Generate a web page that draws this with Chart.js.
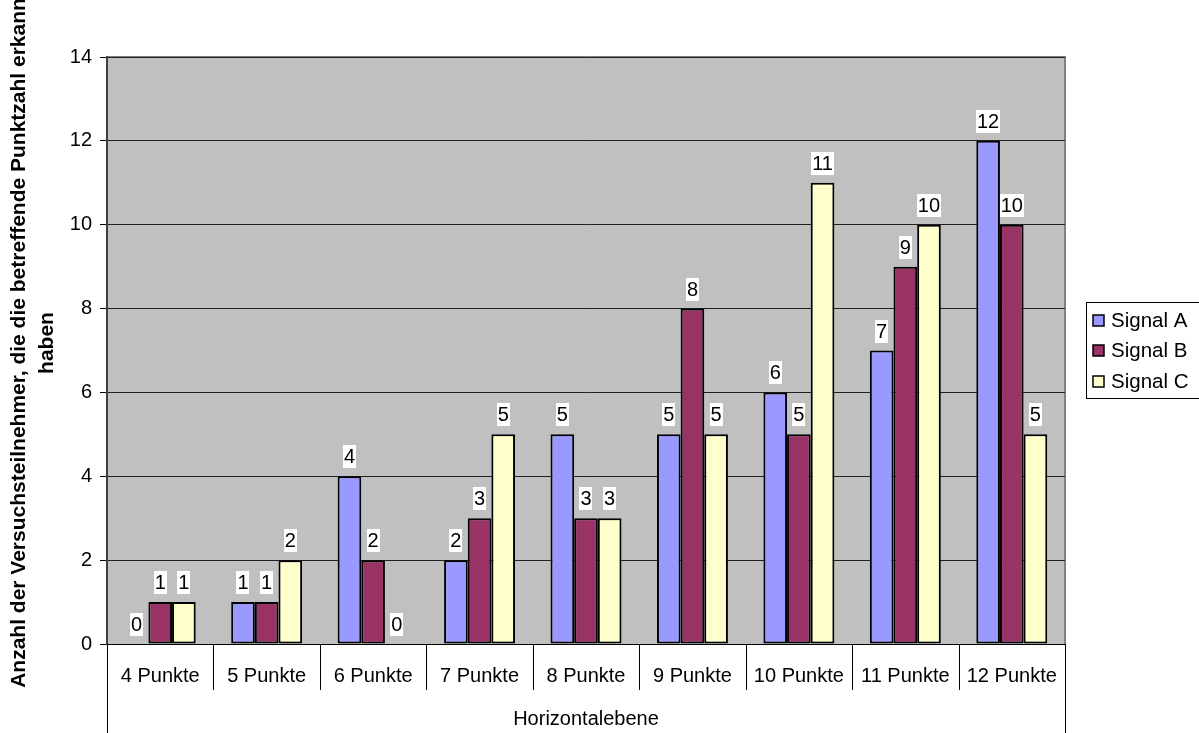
<!DOCTYPE html>
<html>
<head>
<meta charset="utf-8">
<script src="https://cdn.jsdelivr.net/npm/chart.js@4/dist/chart.umd.min.js"></script>
<style>
  html, body { margin: 0; padding: 0; background: #ffffff; }
  #wrap { width: 1199px; height: 733px; position: relative; }
</style>
</head>
<body>
<div id="wrap"><canvas id="c" width="1199" height="733"></canvas></div>
<script>
// Category labels and counts per signal
const categories = ['4 Punkte', '5 Punkte', '6 Punkte', '7 Punkte', '8 Punkte', '9 Punkte', '10 Punkte', '11 Punkte', '12 Punkte'];
const signalA = [0, 1, 4, 2, 5, 5, 6, 7, 12];
const signalB = [1, 1, 2, 3, 3, 8, 5, 9, 10];
const signalC = [1, 2, 0, 5, 3, 5, 11, 10, 5];
const seriesNames = ['Signal A', 'Signal B', 'Signal C'];
const groupLabel = 'Horizontalebene';
const yTitleLines = ['Anzahl der Versuchsteilnehmer, die die betreffende Punktzahl erkann', 'haben'];

const colors = ['#9999FF', '#993366', '#FFFFCC'];
const FONT = '"Liberation Sans", Arial, sans-serif';

// Grey plot background plus the thin frame on top and right
const plotBackground = {
  id: 'plotBackground',
  beforeDraw(chart) {
    const { ctx, chartArea: a } = chart;
    ctx.save();
    ctx.fillStyle = '#C0C0C0';
    ctx.fillRect(a.left, a.top, a.right - a.left, a.bottom - a.top);
    ctx.strokeStyle = '#808080';
    ctx.lineWidth = 2;
    ctx.beginPath();
    ctx.moveTo(a.left, a.top);
    ctx.lineTo(a.right, a.top);
    ctx.lineTo(a.right, a.bottom);
    ctx.stroke();
    ctx.restore();
  }
};

// Value labels on white boxes above each bar
const valueLabels = {
  id: 'valueLabels',
  afterDatasetsDraw(chart) {
    const { ctx } = chart;
    ctx.save();
    ctx.font = '20px ' + FONT;
    ctx.textAlign = 'center';
    ctx.textBaseline = 'middle';
    chart.data.datasets.forEach((ds, di) => {
      const meta = chart.getDatasetMeta(di);
      meta.data.forEach((bar, i) => {
        const txt = String(ds.data[i]);
        const w = ctx.measureText(txt).width + 2;
        const h = 23;
        const bottom = bar.y - 8;
        ctx.fillStyle = '#ffffff';
        ctx.fillRect(Math.round(bar.x - w / 2), Math.round(bottom - h), Math.round(w), h);
        ctx.fillStyle = '#000000';
        ctx.fillText(txt, bar.x, bottom - h / 2 + 1);
      });
    });
    ctx.restore();
  }
};

// Category separators, group label, rotated axis title and legend box
const decorations = {
  id: 'decorations',
  afterDraw(chart) {
    const { ctx, chartArea: a } = chart;
    const n = categories.length;
    const step = (a.right - a.left) / n;
    const H = chart.height;
    ctx.save();
    ctx.strokeStyle = '#000000';
    ctx.lineWidth = 1;
    ctx.beginPath();
    for (let i = 0; i <= n; i++) {
      const x = Math.round(a.left + i * step) + 0.5;
      ctx.moveTo(x, a.bottom);
      ctx.lineTo(x, (i === 0 || i === n) ? H : a.bottom + 46);
    }
    ctx.stroke();

    // group label under the categories
    ctx.fillStyle = '#000000';
    ctx.font = '20px ' + FONT;
    ctx.textAlign = 'center';
    ctx.textBaseline = 'middle';
    ctx.fillText(groupLabel, (a.left + a.right) / 2, a.bottom + 75);

    // y-axis title, two rotated lines
    ctx.font = 'bold 21px ' + FONT;
    ctx.textBaseline = 'alphabetic';
    ctx.textAlign = 'center';
    const cy = 343;
    [25, 53].forEach((bx, k) => {
      ctx.save();
      ctx.translate(bx, cy);
      ctx.rotate(-Math.PI / 2);
      ctx.fillText(yTitleLines[k], 0, 0);
      ctx.restore();
    });

    // legend
    const lx = 1086, ly = 302, lw = 120, lh = 96;
    ctx.strokeStyle = '#000000';
    ctx.lineWidth = 1;
    ctx.strokeRect(lx + 0.5, ly + 0.5, lw, lh);
    ctx.font = '20.5px ' + FONT;
    ctx.textAlign = 'left';
    ctx.textBaseline = 'middle';
    seriesNames.forEach((name, k) => {
      const yc = 320 + k * 30.5;
      const sy = Math.round(yc - 5.5);
      ctx.fillStyle = colors[k];
      ctx.fillRect(1093, sy, 11, 11);
      ctx.strokeStyle = '#000000';
      ctx.lineWidth = 1.5;
      ctx.strokeRect(1093, sy, 11, 11);
      ctx.fillStyle = '#000000';
      ctx.fillText(name, 1111, yc + 1);
    });
    ctx.restore();
  }
};

new Chart(document.getElementById('c'), {
  type: 'bar',
  data: {
    labels: categories,
    datasets: [signalA, signalB, signalC].map((vals, k) => ({
      label: seriesNames[k],
      data: vals,
      backgroundColor: colors[k],
      borderColor: '#000000',
      borderWidth: 2,
      borderSkipped: false,
      categoryPercentage: 3 / 4.5,
      barPercentage: 1
    }))
  },
  options: {
    responsive: false,
    animation: false,
    devicePixelRatio: 1,
    layout: { padding: { left: 0, right: 134, top: 57, bottom: 0 } },
    plugins: {
      legend: { display: false },
      title: { display: false },
      tooltip: { enabled: false }
    },
    scales: {
      x: {
        offset: true,
        grid: { display: false, drawTicks: false },
        border: { display: true, color: '#000000', width: 1 },
        ticks: {
          color: '#000000',
          font: { family: FONT, size: 20 },
          padding: 20,
          maxRotation: 0,
          autoSkip: false
        },
        afterFit(s) { s.height = 89; }
      },
      y: {
        min: 0,
        max: 14,
        ticks: {
          stepSize: 2,
          color: '#000000',
          font: { family: FONT, size: 20 },
          padding: 8
        },
        grid: {
          color: '#222222',
          lineWidth: 1,
          tickLength: 7,
          tickColor: '#000000',
          drawOnChartArea: true
        },
        border: { display: true, color: '#404040', width: 2 },
        afterFit(s) { s.width = 107; }
      }
    }
  },
  plugins: [plotBackground, valueLabels, decorations]
});
</script>
</body>
</html>
